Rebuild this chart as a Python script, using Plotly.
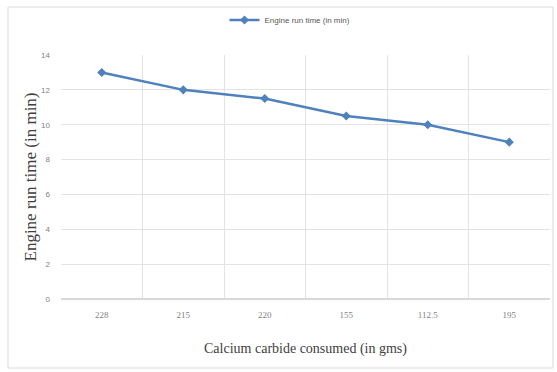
import plotly.graph_objects as go

# Calcium carbide charge (gms) and the resulting engine run time (min)
carbide_labels = ["228", "215", "220", "155", "112.5", "195"]
run_time_min = [13.0, 12.0, 11.5, 10.5, 10.0, 9.0]
y_ticks = [0, 2, 4, 6, 8, 10, 12, 14]

line_color = "#4f81bd"
grid_color = "#e3e3e3"
tick_color = "#7f7f7f"

fig = go.Figure()
fig.add_trace(go.Scatter(
    x=carbide_labels,
    y=run_time_min,
    mode="lines+markers",
    name="Engine run time (in min)",
    line=dict(color=line_color, width=2.5),
    marker=dict(symbol="diamond", size=7, color=line_color),
))

fig.update_layout(
    width=557,
    height=372,
    margin=dict(l=61, r=7, t=55, b=73),
    paper_bgcolor="white",
    plot_bgcolor="white",
    showlegend=True,
    legend=dict(
        orientation="h",
        x=(290 - 61) / 489, xanchor="center",
        y=1 - 20 / 372, yref="container", yanchor="middle",
        font=dict(family="Liberation Sans, Arial", size=8, color="#595959"),
        bgcolor="rgba(0,0,0,0)",
    ),
    xaxis=dict(
        type="category",
        range=[-0.5, 5.5],
        tickson="boundaries",
        showgrid=True,
        gridcolor=grid_color,
        gridwidth=1,
        showline=False,
        ticks="",
        tickfont=dict(family="Liberation Serif, Times New Roman", size=9, color=tick_color),
        ticklabelstandoff=9,
        title=dict(
            text="Calcium carbide consumed (in gms)",
            font=dict(family="Liberation Serif, Times New Roman", size=14, color="#404040"),
            standoff=24,
        ),
    ),
    yaxis=dict(
        range=[0, 14],
        tickvals=y_ticks,
        showgrid=True,
        gridcolor=grid_color,
        gridwidth=1,
        zeroline=True,
        zerolinecolor="#d9d9d9",
        showline=False,
        ticks="",
        tickfont=dict(family="Liberation Sans, Arial", size=8, color=tick_color),
        ticklabelstandoff=10,
        title=dict(
            text="Engine run time (in min)",
            font=dict(family="Liberation Serif, Times New Roman", size=17, color="#404040"),
            standoff=0,
        ),
    ),
    shapes=[
        dict(
            type="rect", xref="paper", yref="paper",
            x0=-53 / 489, x1=492 / 489, y0=-69 / 244, y1=1 + 48 / 244,
            line=dict(color="#d9d9d9", width=1),
            fillcolor="rgba(0,0,0,0)",
            layer="below",
        )
    ],
)

fig.write_html("out.html")
